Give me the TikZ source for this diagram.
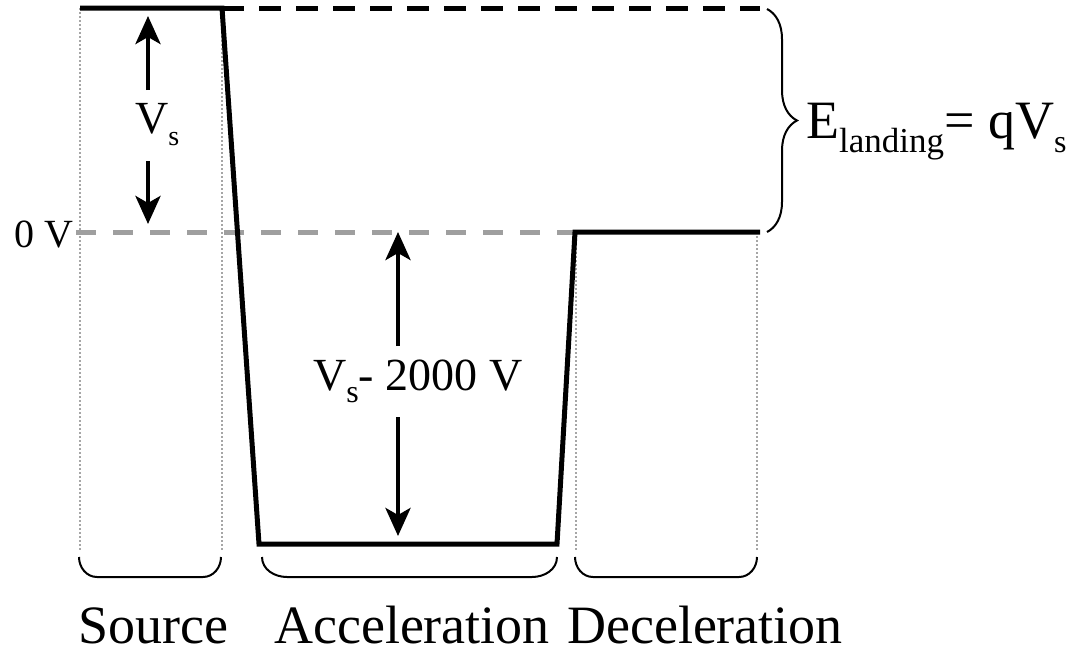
\documentclass[tikz,border=0pt]{standalone}
\usepackage{fontspec}
\setmainfont{Liberation Serif}
\usetikzlibrary{arrows.meta,decorations.pathreplacing}
\begin{document}
\begin{tikzpicture}[x=1pt,y=-1pt,
  profile/.style={line width=5pt,line join=miter},
  zeroline/.style={line width=5pt,gray!75,dash pattern=on 20pt off 17pt},
  topline/.style={line width=5pt,dash pattern=on 22pt off 15pt},
  guide/.style={line width=2pt,gray!70,dash pattern=on 2pt off 2pt},
  bracket/.style={line width=2pt},
  varrow/.style={line width=4.5pt,-{Stealth[length=28pt,width=25pt,inset=7pt]}},
  lbl/.style={inner sep=0pt,font=\fontsize{46}{50}\selectfont},
  zlbl/.style={inner sep=0pt,font=\fontsize{40}{44}\selectfont},
  seglbl/.style={inner sep=0pt,font=\fontsize{54}{58}\selectfont}]
\useasboundingbox (0,0) rectangle (1076,651);
% coordinates
\coordinate (s1) at (80,8);
\coordinate (s2) at (222,8);
\coordinate (a1) at (259,544);
\coordinate (a2) at (557,544);
\coordinate (d1) at (575,232);
\coordinate (d2) at (760,232);
\coordinate (t2) at (760,8);
% guides
\draw[guide] (80,8) -- (80,550);
\draw[guide] (222,8) -- (222,550);
\draw[guide] (576,232) -- (576,550);
\draw[guide] (757,232) -- (757,550);
% zero line
\draw[zeroline] (76,232) -- (575,232);
% top dashed line
\draw[topline] (s2) -- (t2);
% profile
\draw[profile] (s1) -- (s2) -- (a1) -- (a2) -- (d1) -- (d2);
% labels
\node[zlbl,anchor=base east] (zero) at (74,247) {0 V};
\node[lbl,anchor=base west] (vs) at (135,133) {V\raisebox{-12pt}{\fontsize{28}{30}\selectfont s}};
\coordinate (vsTop) at (148,16);
\coordinate (vsBot) at (148,224);
\draw[varrow] (148,90) -- (vsTop);
\draw[varrow] (148,161) -- (vsBot);
\node[lbl,anchor=base west] (vacc) at (313,390) {V\raisebox{-12pt}{\fontsize{32}{34}\selectfont s}- 2000 V};
\coordinate (accTop) at (398,232);
\coordinate (accBot) at (398,536);
\draw[varrow] (398,346) -- (accTop);
\draw[varrow] (398,417) -- (accBot);
% right brace
\draw[bracket,decorate,decoration={brace,amplitude=30pt}] (767,9) -- (767,232);
\node[seglbl,anchor=base west] (eland) at (806,138) {E\raisebox{-14pt}{\fontsize{35}{37}\selectfont landing}= qV\raisebox{-14pt}{\fontsize{32}{34}\selectfont s}};
% bottom brackets
\draw[bracket] (79,557) to[out=-90,in=180] (97,577) -- (203,577) to[out=0,in=-90] (221,557);
\draw[bracket] (262,557) to[out=-90,in=180] (287,577) -- (532,577) to[out=0,in=-90] (557,557);
\draw[bracket] (575,557) to[out=-90,in=180] (593,577) -- (739,577) to[out=0,in=-90] (757,557);
\node[seglbl,anchor=base] (src) at (153,643) {Source};
\node[seglbl,anchor=base] (acc) at (412,643) {Acceleration};
\node[seglbl,anchor=base] (dec) at (705,643) {Deceleration};
\end{tikzpicture}
\end{document}
